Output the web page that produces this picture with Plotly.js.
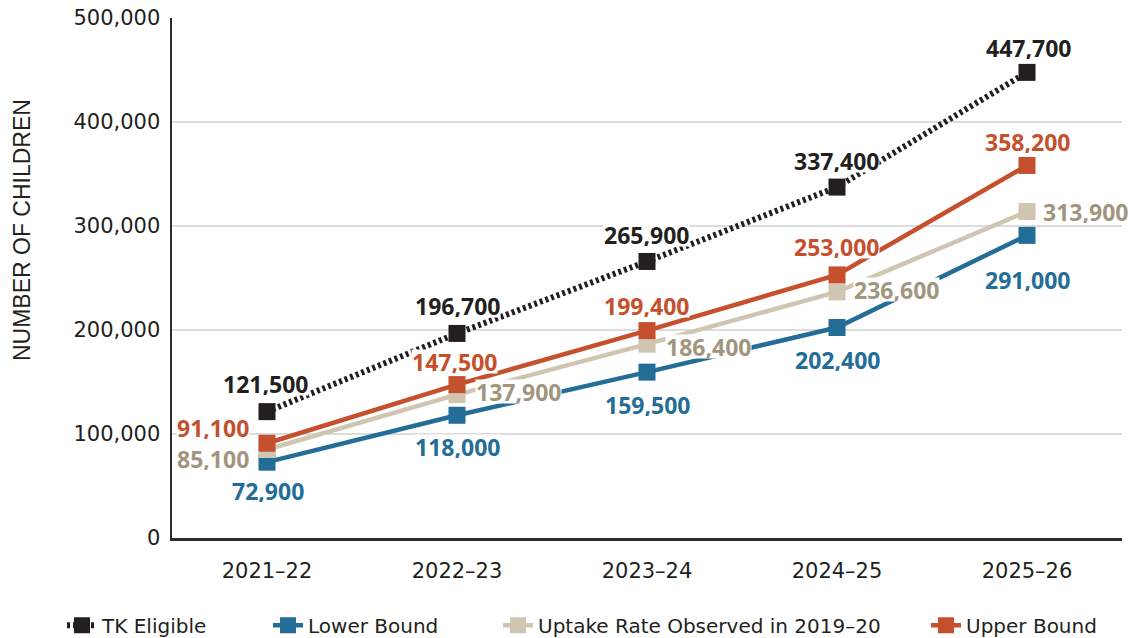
<!DOCTYPE html>
<html>
<head>
<meta charset="utf-8">
<script src="https://cdn.plot.ly/plotly-3.0.1.min.js"></script>
<style>
html,body{margin:0;padding:0;background:#fff;}
#chart{width:1137px;height:638px;}
</style>
</head>
<body>
<div id="chart"></div>
<script>
// ---- data ----
const years = ["2021–22", "2022–23", "2023–24", "2024–25", "2025–26"];
const tkEligible = [121500, 196700, 265900, 337400, 447700];
const lowerBound = [72900, 118000, 159500, 202400, 291000];
const uptake2019 = [85100, 137900, 186400, 236600, 313900];
const upperBound = [91100, 147500, 199400, 253000, 358200];
const seriesNames = ["TK Eligible", "Lower Bound", "Uptake Rate Observed in 2019–20", "Upper Bound"];
const yTickVals = [0, 100000, 200000, 300000, 400000, 500000];
const yTickText = ["0", "100,000", "200,000", "300,000", "400,000", "500,000"];

// ---- styles ----
const C_BLACK = "#231f20", C_BLUE = "#236d96", C_TAN = "#d0c5b1", C_TANTXT = "#a2957e", C_RED = "#c4502d";
const LABEL_FONT = "Open Sans, DejaVu Sans, sans-serif";

// label pixel offsets (dx, dy) from each marker to label centre
const offTK = [[-2,28],[0,28],[-1,27],[-1,27],[1,25]];
const offLo = [[1,-28],[0,-31],[0,-32],[0,-32],[0,-44]];
const offUp = [[-54,-9],[61,3],[61,-2],[59,2],[58,0]];
const offHi = [[-54,16],[-3,23],[-1,25],[-1,28],[0,24]];

function fmt(v){ return v.toLocaleString("en-US"); }

const series = [
  {y: tkEligible, color: C_BLACK, txt: C_BLACK, dash: "3px,3px", width: 6, off: offTK, legend: "legend"},
  {y: lowerBound, color: C_BLUE, txt: C_BLUE, dash: "solid", width: 4.5, off: offLo, legend: "legend2"},
  {y: uptake2019, color: C_TAN, txt: C_TANTXT, dash: "solid", width: 4.5, off: offUp, legend: "legend3"},
  {y: upperBound, color: C_RED, txt: C_RED, dash: "solid", width: 4.5, off: offHi, legend: "legend4"}
];

const traces = series.map((s, i) => ({
  type: "scatter",
  mode: "lines+markers",
  x: years,
  y: s.y,
  name: seriesNames[i],
  legend: s.legend,
  line: {color: s.color, width: s.width, dash: s.dash},
  marker: {symbol: "square", size: 17, color: s.color},
  hoverinfo: "x+y+name"
}));

const annotations = [];
series.forEach(s => {
  s.y.forEach((v, j) => {
    annotations.push({
      x: years[j], y: v, xref: "x", yref: "y",
      text: fmt(v), showarrow: false,
      xanchor: "center", yanchor: "middle",
      xshift: s.off[j][0], yshift: s.off[j][1],
      font: {family: LABEL_FONT, size: 23, color: s.txt, weight: 700},
      bgcolor: "rgba(255,255,255,1)", borderpad: 0, height: 23
    });
  });
});

annotations.push({
  xref: "paper", yref: "paper", x: -0.158, y: 0.592,
  text: "NUMBER OF CHILDREN", showarrow: false, textangle: -90,
  xanchor: "center", yanchor: "middle",
  font: {family: "Liberation Sans, Arial, sans-serif", size: 23, color: "#231f20"}
});

const legendBase = {
  orientation: "h", xref: "container", yref: "container",
  yanchor: "middle", y: 0.02, xanchor: "left",
  font: {family: "DejaVu Sans, sans-serif", size: 20, color: "#231f20"},
  bgcolor: "rgba(0,0,0,0)", itemwidth: 30
};

const tickFont = {family: "DejaVu Sans, sans-serif", size: 21, color: "#231f20"};

const layout = {
  width: 1137, height: 638,
  margin: {l: 172, r: 15, t: 18, b: 100},
  paper_bgcolor: "#fff", plot_bgcolor: "#fff",
  showlegend: true,
  xaxis: {
    type: "category", range: [-0.5, 4.5],
    showgrid: false, zeroline: false,
    showline: true, linecolor: "#2b2b2b", linewidth: 2.5,
    ticks: "", ticklabelstandoff: 12,
    tickfont: tickFont,
    fixedrange: true
  },
  yaxis: {
    range: [0, 500000], tickvals: yTickVals, ticktext: yTickText,
    showgrid: true, gridcolor: "#dcdcdc", gridwidth: 1.5,
    zeroline: false, showline: true, linecolor: "#2b2b2b", linewidth: 2.5,
    ticks: "", ticklabelstandoff: 5,
    tickfont: tickFont,
    fixedrange: true
  },
  legend: Object.assign({}, legendBase, {x: 62/1137}),
  legend2: Object.assign({}, legendBase, {x: 268/1137}),
  legend3: Object.assign({}, legendBase, {x: 498/1137}),
  legend4: Object.assign({}, legendBase, {x: 926/1137}),
  annotations: annotations
};

Plotly.newPlot("chart", traces, layout, {displayModeBar: false, staticPlot: true});
</script>
</body>
</html>
